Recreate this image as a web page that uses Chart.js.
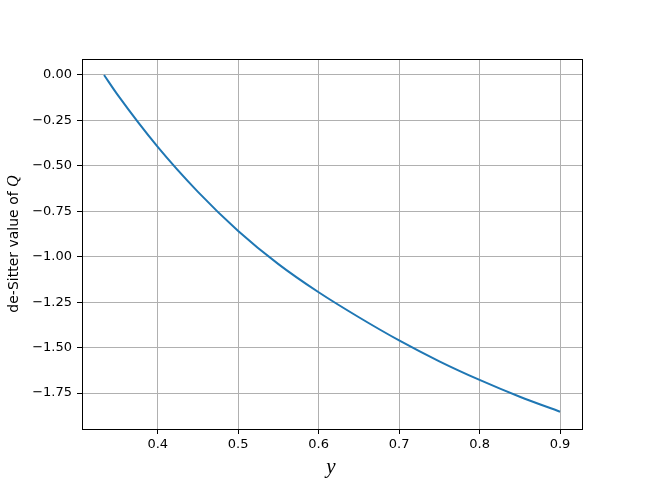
<!DOCTYPE html>
<html>
<head>
<meta charset="utf-8">
<script src="https://cdn.jsdelivr.net/npm/chart.js@4/dist/chart.umd.min.js"></script>
<style>
  html, body { margin: 0; padding: 0; background: #ffffff; }
  #wrap { width: 647px; height: 482px; position: relative; }
</style>
</head>
<body>
<div id="wrap"><canvas id="c" width="647" height="482"></canvas></div>
<script>
// Data
const yValues = [0.3333, 0.35, 0.4, 0.45, 0.5, 0.55, 0.6, 0.65, 0.7, 0.75, 0.8, 0.85, 0.9];
const qValues = [0.0, -0.108, -0.3955, -0.643, -0.858, -1.0405, -1.1955, -1.333, -1.4605, -1.5755, -1.678, -1.7705, -1.853];
const xTickValues = [0.4, 0.5, 0.6, 0.7, 0.8, 0.9];
const yTickValues = [0.0, -0.25, -0.5, -0.75, -1.0, -1.25, -1.5, -1.75];
const xTitle = 'y';
const yTitleText = 'de-Sitter value of ';
const yTitleMath = 'Q';

const points = yValues.map((v, i) => ({ x: v, y: qValues[i] }));

const frame = {
  id: 'frame',
  afterDraw(chart) {
    const { ctx, chartArea: a } = chart;
    ctx.save();
    ctx.strokeStyle = '#000000';
    ctx.lineWidth = 1;
    ctx.strokeRect(Math.round(a.left) + 0.5, Math.round(a.top) + 0.5,
                   Math.round(a.right - a.left), Math.round(a.bottom - a.top));
    // x axis title (math italic)
    ctx.fillStyle = '#000000';
    ctx.textAlign = 'center';
    ctx.textBaseline = 'alphabetic';
    ctx.font = 'italic 21px "Liberation Serif"';
    ctx.fillText(xTitle, (a.left + a.right) / 2 - 1, 473);
    // y axis title, rotated, mixed fonts
    const f1 = '14px "DejaVu Sans"';
    const f2 = 'italic 16px "Liberation Serif"';
    ctx.font = f1; const w1 = ctx.measureText(yTitleText).width;
    ctx.font = f2; const w2 = ctx.measureText(yTitleMath).width;
    const total = w1 + w2;
    ctx.translate(18, (a.top + a.bottom) / 2);
    ctx.rotate(-Math.PI / 2);
    ctx.textAlign = 'left';
    ctx.font = f1;
    ctx.fillText(yTitleText, -total / 2, 0);
    ctx.font = f2;
    ctx.fillText(yTitleMath, -total / 2 + w1, 0);
    ctx.restore();
  }
};

new Chart(document.getElementById('c'), {
  type: 'line',
  data: {
    datasets: [{
      data: points,
      borderColor: '#1f77b4',
      borderWidth: 2,
      pointRadius: 0,
      fill: false,
      cubicInterpolationMode: 'monotone'
    }]
  },
  options: {
    responsive: false,
    animation: false,
    devicePixelRatio: 1,
    layout: { padding: { left: 0, top: 59, right: 65, bottom: 0 } },
    plugins: { legend: { display: false }, tooltip: { enabled: false } },
    scales: {
      x: {
        type: 'linear',
        min: 0.3059,
        max: 0.9273,
        afterFit(s) { s.height = 53; },
        afterBuildTicks(s) { s.ticks = xTickValues.map(v => ({ value: v })); },
        grid: { color: '#b0b0b0', lineWidth: 1, tickColor: '#000000', tickLength: 5, drawOnChartArea: true },
        border: { display: false },
        ticks: {
          color: '#000000',
          font: { family: 'DejaVu Sans', size: 13 },
          padding: 3,
          maxRotation: 0,
          autoSkip: false,
          callback: v => v.toFixed(1)
        }
      },
      y: {
        type: 'linear',
        min: -1.948,
        max: 0.088,
        afterFit(s) { s.width = 82; },
        afterBuildTicks(s) { s.ticks = yTickValues.map(v => ({ value: v })); },
        grid: { color: '#b0b0b0', lineWidth: 1, tickColor: '#000000', tickLength: 5 },
        border: { display: false },
        ticks: {
          color: '#000000',
          font: { family: 'DejaVu Sans', size: 13 },
          padding: 5,
          autoSkip: false,
          callback: v => v.toFixed(2).replace('-', '\u2212')
        }
      }
    }
  },
  plugins: [frame]
});
</script>
</body>
</html>
